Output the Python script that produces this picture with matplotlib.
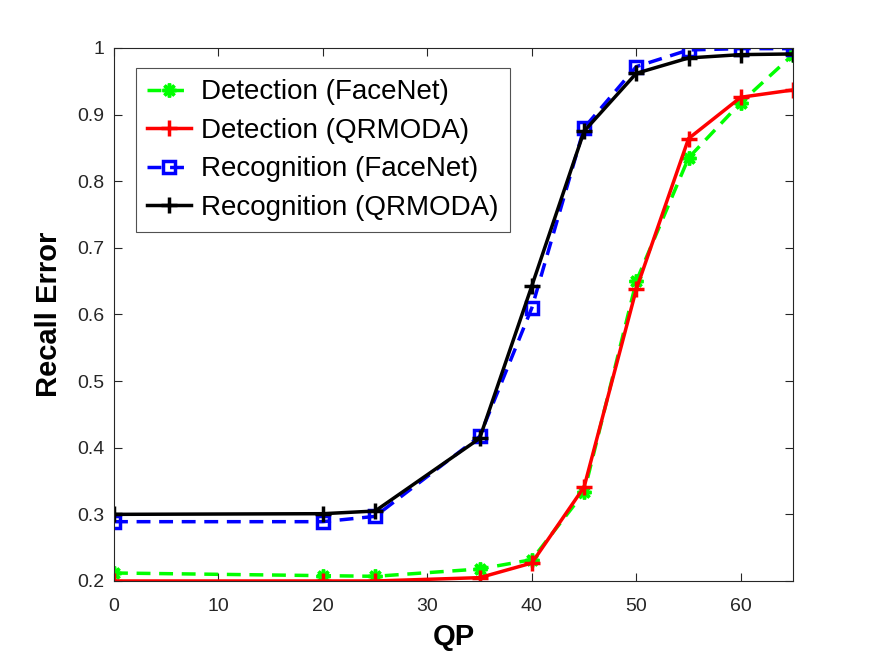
import matplotlib
matplotlib.use("Agg")
import matplotlib.pyplot as plt

plt.rcParams['font.family'] = ['Liberation Sans', 'DejaVu Sans']

qp = [0, 20, 25, 35, 40, 45, 50, 55, 60, 65]
det_facenet = [0.212, 0.208, 0.207, 0.218, 0.232, 0.333, 0.650, 0.835, 0.918, 0.990]
det_qrmoda = [0.200, 0.200, 0.200, 0.205, 0.227, 0.341, 0.638, 0.864, 0.926, 0.937]
rec_facenet = [0.289, 0.289, 0.297, 0.417, 0.610, 0.880, 0.972, 0.997, 0.999, 0.999]
rec_qrmoda = [0.300, 0.301, 0.305, 0.414, 0.643, 0.875, 0.962, 0.985, 0.990, 0.991]

fig = plt.figure(figsize=(8.75, 6.57), dpi=100)
ax = fig.add_axes([0.1303, 0.1157, 0.7760, 0.8113])

ax.plot(qp, det_facenet, color='#00ff00', ls='--', lw=2.5, marker=(8, 2, 0), ms=10, mew=2.5,
        dashes=(4, 2.5), label='Detection (FaceNet)')
ax.plot(qp, det_qrmoda, color='#ff0000', ls='-', lw=2.5, marker='+', ms=12, mew=2.5,
        label='Detection (QRMODA)')
ax.plot(qp, rec_facenet, color='#0000ff', ls='--', lw=2.5, marker='s', ms=8, mew=2.5,
        mfc='none', dashes=(4, 2.5), label='Recognition (FaceNet)')
ax.plot(qp, rec_qrmoda, color='#000000', ls='-', lw=2.5, marker='+', ms=12, mew=2.5,
        label='Recognition (QRMODA)')

ax.set_xlim(0, 65)
ax.set_ylim(0.2, 1.0)
ax.set_xticks([0, 10, 20, 30, 40, 50, 60])
ax.set_yticks([0.2, 0.3, 0.4, 0.5, 0.6, 0.7, 0.8, 0.9, 1.0])
ax.set_yticklabels(['0.2', '0.3', '0.4', '0.5', '0.6', '0.7', '0.8', '0.9', '1'])
ax.tick_params(direction='in', top=True, right=True, labelsize=14, length=6,
               color='#262626', labelcolor='#262626')
ax.tick_params(axis='x', pad=12)
ax.tick_params(axis='y', pad=7)
for s in ax.spines.values():
    s.set_color('#262626')
    s.set_linewidth(0.8)

ax.set_xlabel('QP', fontsize=21, fontweight='bold', labelpad=6)
ax.set_ylabel('Recall Error', fontsize=21, fontweight='bold', labelpad=10)

leg = ax.legend(loc='upper left', bbox_to_anchor=(0.032, 0.962), fontsize=20, frameon=True,
                fancybox=False, edgecolor='#262626', handlelength=1.6, borderpad=0.4,
                labelspacing=0.45, handletextpad=0.35, borderaxespad=0)
leg.get_frame().set_linewidth(0.8)

fig.savefig('out.png', dpi=100)
